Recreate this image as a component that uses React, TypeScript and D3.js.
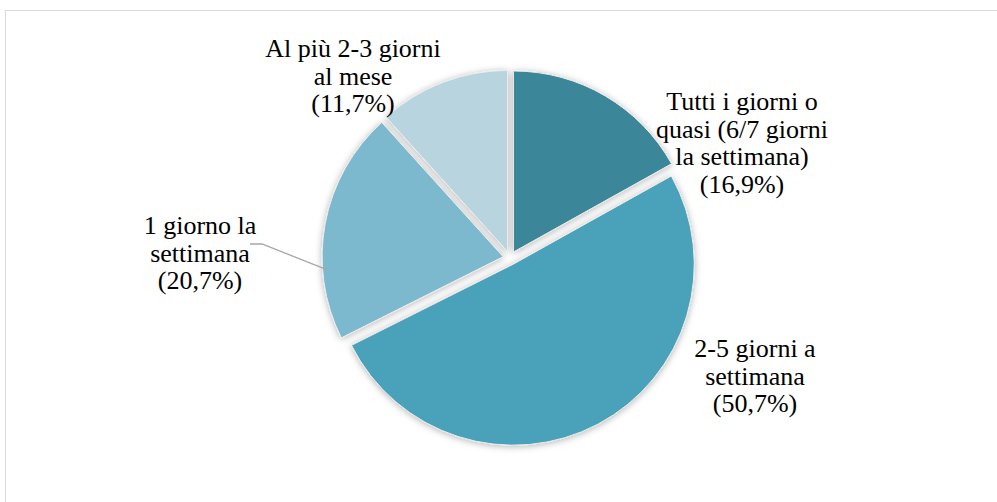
import { useRef, useEffect } from "react";
import * as d3 from "d3";

const categories: string[][] = [
    ["Tutti i giorni o", "quasi (6/7 giorni", "la settimana)", "(16,9%)"],
    ["2-5 giorni a", "settimana", "(50,7%)"],
    ["1 giorno la", "settimana", "(20,7%)"],
    ["Al più 2-3 giorni", "al mese", "(11,7%)"],
];
const values: number[] = [16.9, 50.7, 20.7, 11.7];
const colors: string[] = ["#3a8698", "#48a2b9", "#7bb9cf", "#b7d4df"];

// where excel put each label: center x and first baseline
const labelPos = [
    { x: 742, y: 110 },
    { x: 755, y: 357 },
    { x: 200, y: 234 },
    { x: 353, y: 57 },
];

const width = 997;
const height = 502;
const cx = 510;
const cy = 258;
const radius = 181;
const explode = 7;
const lineH = 27.5;

export default function App() {
    const gRef = useRef<SVGGElement | null>(null);

    useEffect(() => {
        if (!gRef.current) return;
        const g = d3.select(gRef.current);
        g.selectAll("*").remove();

        const pie = d3.pie<number>().sort(null).value((v) => v);
        const arcs = pie(values);
        const arc = d3.arc<d3.PieArcDatum<number>>().innerRadius(0).outerRadius(radius);

        g.append("g")
            .attr("transform", `translate(${cx},${cy})`)
            .selectAll("path")
            .data(arcs)
            .join("path")
            .attr("d", arc)
            .attr("fill", (_d, i) => colors[i])
            .attr("stroke", "#ececec")
            .attr("stroke-width", 1)
            .attr("filter", "url(#shadow)")
            .attr("transform", (a) => {
                const m = (a.startAngle + a.endAngle) / 2;
                return `translate(${Math.sin(m) * explode},${-Math.cos(m) * explode})`;
            });

        // leader line for the "1 giorno" label
        const a2 = (arcs[2].startAngle + arcs[2].endAngle) / 2 - 0.25;
        const lx = cx + Math.sin(a2) * (radius + explode - 5);
        const ly = cy - Math.cos(a2) * (radius + explode - 5);
        g.append("polyline")
            .attr("points", `${labelPos[2].x + 50},${labelPos[2].y + 10} ${labelPos[2].x + 62},${labelPos[2].y + 10} ${lx},${ly}`)
            .attr("fill", "none")
            .attr("stroke", "#a6a6a6")
            .attr("stroke-width", 1.3);
    }, []);

    return (
        <svg width={width} height={height} style={{ position: "absolute", left: 0, top: 0 }}>
            <defs>
                <filter id="shadow" x="-20%" y="-20%" width="140%" height="140%">
                    <feDropShadow dx={0} dy={1} stdDeviation={3.5} floodColor="#000" floodOpacity={0.3} />
                </filter>
            </defs>
            <rect x={0} y={0} width={width} height={height} fill="#fff" />
            <rect x={5.5} y={10.5} width={width} height={height} fill="none" stroke="#d9d9d9" />
            <g ref={gRef}></g>
            {categories.map((lines, i) =>
                lines.map((ln, j) => (
                    <text key={`${i}-${j}`} x={labelPos[i].x} y={labelPos[i].y + j * lineH}
                        textAnchor="middle" fill="#000"
                        fontFamily="Times New Roman, Tinos, Liberation Serif, serif"
                        style={{ fontFamily: '"Times New Roman", Tinos, "Liberation Serif", serif', fontSize: "26px" }}>
                        {ln}
                    </text>
                ))
            )}
        </svg>
    );
}
